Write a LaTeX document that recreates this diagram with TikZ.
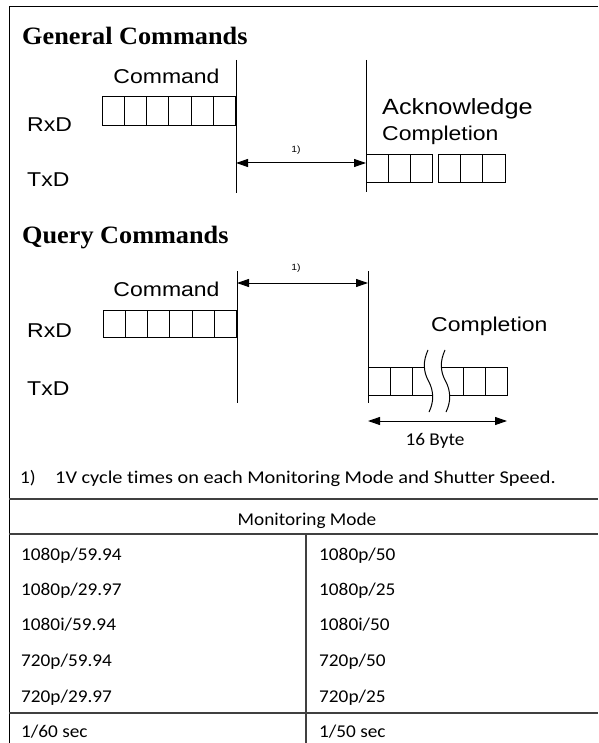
\documentclass[tikz,border=0pt]{standalone}
\usepackage{fontspec}
\usetikzlibrary{arrows.meta}
\newfontfamily\headfont[FakeStretch=1.05]{Liberation Serif}
\newfontfamily\sigfont[FakeStretch=1.15]{Liberation Sans}
\newfontfamily\notefont[FakeStretch=1.07,Ligatures=NoCommon]{Carlito}
\newfontfamily\widenotefont[FakeStretch=1.13,Ligatures=NoCommon]{Carlito}

\begin{document}
\begin{tikzpicture}[x=1pt,y=-1pt,
	heading/.style={font=\headfont\bfseries\fontsize{25}{30}\selectfont, inner sep=0pt, anchor=base west},
	siglabel/.style={font=\sigfont\fontsize{20}{24}\selectfont, inner sep=0pt},
	steplabel/.style={font=\sigfont\fontsize{9}{11}\selectfont, inner sep=0pt},
	note/.style={font=\notefont\fontsize{18}{22}\selectfont, inner sep=0pt, anchor=base west},
	cell/.style={draw, line width=1pt, minimum width=22.33pt, minimum height=29pt, inner sep=0pt, outer sep=0pt},
	timing/.style={line width=1pt, {Triangle[length=12pt,width=8pt]}-{Triangle[length=12pt,width=8pt]}},
	rule/.style={line width=1pt},
	grid/.style={line width=1.3pt, draw=black!75}]
			\useasboundingbox (0,0) rectangle (598,743);
			\draw [rule] (598,7) -- (9,7) -- (9,743);
			\node [heading] (gen) at (22,45) {General Commands};
			\node [siglabel, anchor=base] (gcmd) at (166.5,84) {Command};
			\node [siglabel, anchor=base west] (grx) at (27,132) {RxD};
			\node [siglabel, anchor=base west] (gtx) at (27,187) {TxD};
			\foreach \i in {0,...,5}
				\node [cell] (gc\i) at (113.17+22.33*\i,111.5) {};
			\coordinate (gl0) at (236,60);
			\coordinate (gl1) at (236,193);
			\coordinate (gr0) at (366,60);
			\coordinate (gr1) at (366,192);
			\draw [rule] (gl0) -- (gl1);
			\draw [rule] (gr0) -- (gr1);
			\draw [timing] (gl0 |- 0,163) -- (gr0 |- 0,163);
			\node [steplabel] (gstep) at (296,150) {1)};
			\node [siglabel, anchor=base west, font=\sigfont\fontsize{22}{26}\selectfont] (gack) at (382,115) {Acknowledge};
			\node [siglabel, anchor=base west] (gcomp) at (382,140.5) {Completion};
			\foreach \i in {0,1,2} {
				\node [cell, minimum width=22.2pt, minimum height=28pt] (ga\i) at (377.1+22.2*\i,169) {};
				\node [cell, minimum width=22.2pt, minimum height=28pt] (gb\i) at (449.6+22.2*\i,169) {};
			}
			\node [heading] (qry) at (22,243) {Query Commands};
			\node [siglabel, anchor=base] (qcmd) at (166.5,296) {Command};
			\node [siglabel, anchor=base west] (qrx) at (27,337) {RxD};
			\node [siglabel, anchor=base west] (qtx) at (27,395) {TxD};
			\foreach \i in {0,...,5}
				\node [cell, minimum height=27pt] (qc\i) at (114.17+22.33*\i,323.5) {};
			\coordinate (ql0) at (237,271);
			\coordinate (ql1) at (237,403);
			\coordinate (qr0) at (368,271);
			\coordinate (qr1) at (368,403);
			\draw [rule] (ql0) -- (ql1);
			\draw [rule] (qr0) -- (qr1);
			\draw [timing] (ql0 |- 0,283) -- (qr0 |- 0,283);
			\node [steplabel] (qstep) at (296,268) {1)};
			\node [siglabel, anchor=base west] (qcomp) at (431,331.5) {Completion};
			\node [cell, minimum width=22pt, minimum height=28pt] (qd0) at (379,381) {};
			\node [cell, minimum width=22pt, minimum height=28pt] (qd1) at (401,381) {};
			\node [cell, minimum width=22pt, minimum height=28pt] (qe0) at (474,381) {};
			\node [cell, minimum width=22pt, minimum height=28pt] (qe1) at (496,381) {};
			\draw [rule] (qd1.north east) -- (424.3,367) (qd1.south east) -- (432.2,395);
			\draw [rule] (441.3,367) -- (qe0.north west) (449.2,395) -- (qe0.south west);
			\draw [rule] (428,350) .. controls (423,361) and (423,371) .. (428.5,381) .. controls (434,391) and (434,402) .. (429,412);
			\draw [rule] (445,350) .. controls (440,361) and (440,371) .. (445.5,381) .. controls (451,391) and (451,402) .. (446,412);
			\draw [timing] (qd0.south west |- 0,421) -- (qe1.south east |- 0,421);
			\node [note, anchor=base] (qbyte) at (435,445) {16 Byte};
			\node [note] (fn) at (20,483) {1)};
			\node [note, font=\widenotefont\fontsize{18}{22}\selectfont] (fntext) at (55,483) {1V cycle times on each Monitoring Mode and Shutter Speed.};
			\draw [grid] (9,499) -- (598,499);
			\node [note, anchor=base] (mm) at (307,525) {Monitoring Mode};
			\draw [grid] (9,534) -- (598,534);
			\draw [grid] (306,534) -- (306,743);
			\draw [grid] (9,713) -- (598,713);
			\node [note] (l1) at (21,560) {1080p/59.94};
			\node [note] (r1) at (319,560) {1080p/50};
			\node [note] (l2) at (21,595) {1080p/29.97};
			\node [note] (r2) at (319,595) {1080p/25};
			\node [note] (l3) at (21,630.5) {1080i/59.94};
			\node [note] (r3) at (319,630.5) {1080i/50};
			\node [note] (l4) at (21,666.5) {720p/59.94};
			\node [note] (r4) at (319,666.5) {720p/50};
			\node [note] (l5) at (21,702.5) {720p/29.97};
			\node [note] (r5) at (319,702.5) {720p/25};
			\node [note] (ls) at (21,737) {1/60 sec};
			\node [note] (rs) at (319,737) {1/50 sec};
\end{tikzpicture}
\end{document}
